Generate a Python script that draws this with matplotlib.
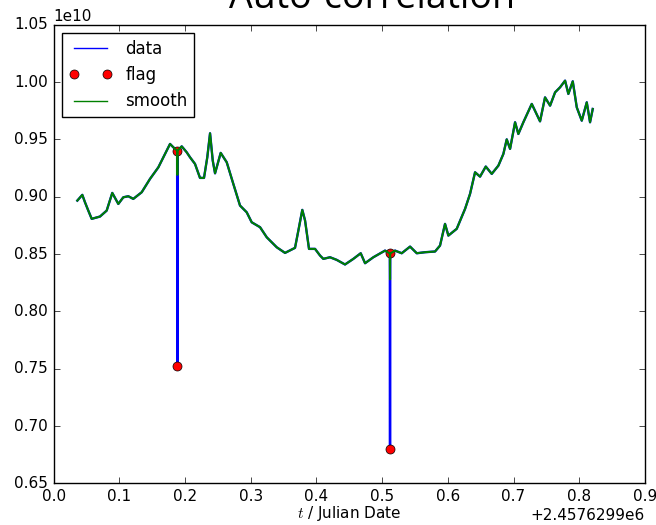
import numpy as np
import matplotlib
matplotlib.use("Agg")
import matplotlib.pyplot as plt
from matplotlib.ticker import ScalarFormatter

# time offset shown on the x axis and y scale
T0 = 2457629.9
SCALE = 1e10

# sample times (fraction of a day after T0)
t = [0.0361, 0.0437, 0.0478, 0.0528, 0.0580, 0.0706, 0.0808, 0.0893, 0.0985,
     0.1061, 0.1137, 0.1213, 0.1341, 0.1467, 0.1594, 0.1696, 0.1772, 0.1822,
     0.1880, 0.1883, 0.1886, 0.1950, 0.2026, 0.2076, 0.2152, 0.2228, 0.2289,
     0.2339, 0.2381, 0.2422, 0.2457, 0.2543, 0.2635, 0.2735, 0.2837, 0.2939,
     0.3015, 0.3142, 0.3244, 0.3396, 0.3522, 0.3674, 0.3725, 0.3785, 0.3827,
     0.3887, 0.3979, 0.4055, 0.4105, 0.4207, 0.4309, 0.4435, 0.4562, 0.4674,
     0.4740, 0.4866, 0.5044, 0.5117, 0.5120, 0.5123, 0.5196, 0.5298, 0.5425,
     0.5527, 0.5653, 0.5805, 0.5881, 0.5957, 0.6008, 0.6135, 0.6262, 0.6338,
     0.6414, 0.6490, 0.6577, 0.6668, 0.6769, 0.6845, 0.6896, 0.6947, 0.7023,
     0.7073, 0.7149, 0.7277, 0.7403, 0.7479, 0.7556, 0.7632, 0.7708, 0.7784,
     0.7834, 0.7901, 0.7962, 0.8038, 0.8114, 0.8164, 0.8205]

# raw auto-correlation (units of 1e10), with the two outliers
data = [0.8966, 0.9016, 0.8951, 0.8879, 0.8807, 0.8827, 0.8879, 0.9033, 0.8937,
        0.8995, 0.9004, 0.8981, 0.9039, 0.9155, 0.9256, 0.9373, 0.9460, 0.9431,
        0.9402, 0.7520, 0.9402, 0.9439, 0.9387, 0.9344, 0.9286, 0.9164, 0.9164,
        0.9344, 0.9553, 0.9315, 0.9204, 0.9382, 0.9300, 0.9112, 0.8923, 0.8864,
        0.8777, 0.8734, 0.8646, 0.8559, 0.8510, 0.8554, 0.8705, 0.8885, 0.8792,
        0.8545, 0.8545, 0.8487, 0.8458, 0.8472, 0.8449, 0.8409, 0.8458, 0.8507,
        0.8420, 0.8472, 0.8530, 0.8505, 0.6800, 0.8505, 0.8530, 0.8507, 0.8565,
        0.8507, 0.8516, 0.8522, 0.8574, 0.8763, 0.8661, 0.8720, 0.8894, 0.9025,
        0.9213, 0.9175, 0.9263, 0.9199, 0.9271, 0.9373, 0.9500, 0.9417, 0.9649,
        0.9547, 0.9649, 0.9809, 0.9657, 0.9866, 0.9794, 0.9910, 0.9954, 1.0012,
        0.9896, 1.0006, 0.9779, 0.9663, 0.9823, 0.9649, 0.9765]

# smoothed curve (only dips a little at the outliers)
smooth = [0.8966, 0.9016, 0.8951, 0.8879, 0.8807, 0.8827, 0.8879, 0.9033, 0.8937,
          0.8995, 0.9004, 0.8981, 0.9039, 0.9155, 0.9256, 0.9373, 0.9460, 0.9431,
          0.9402, 0.9190, 0.9402, 0.9439, 0.9387, 0.9344, 0.9286, 0.9164, 0.9164,
          0.9344, 0.9553, 0.9315, 0.9204, 0.9382, 0.9300, 0.9112, 0.8923, 0.8864,
          0.8777, 0.8734, 0.8646, 0.8559, 0.8510, 0.8554, 0.8705, 0.8885, 0.8792,
          0.8545, 0.8545, 0.8487, 0.8458, 0.8472, 0.8449, 0.8409, 0.8458, 0.8507,
          0.8420, 0.8472, 0.8530, 0.8505, 0.8280, 0.8505, 0.8530, 0.8507, 0.8565,
          0.8507, 0.8516, 0.8522, 0.8574, 0.8763, 0.8661, 0.8720, 0.8894, 0.9025,
          0.9213, 0.9175, 0.9263, 0.9199, 0.9271, 0.9373, 0.9500, 0.9417, 0.9649,
          0.9547, 0.9649, 0.9809, 0.9657, 0.9866, 0.9794, 0.9910, 0.9954, 1.0012,
          0.9896, 1.0006, 0.9779, 0.9663, 0.9823, 0.9649, 0.9765]

# flagged points
flag_t = [0.1883, 0.1883, 0.5120, 0.5120]
flag_v = [0.9402, 0.7520, 0.8505, 0.6800]

plt.style.use('classic')
plt.rcParams['font.size'] = 11
plt.rcParams['figure.facecolor'] = 'white'

fig = plt.figure(figsize=(6.56, 5.25), dpi=100)
ax = fig.add_axes([0.0817, 0.0792, 0.9015, 0.8738])

x = T0 + np.array(t)
ax.plot(x, np.array(data) * SCALE, 'b-', lw=1.7, label='data')
ax.plot(T0 + np.array(flag_t), np.array(flag_v) * SCALE, 'ro', ms=6.5,
        mec='k', mew=0.5, label='flag')
ax.plot(x, np.array(smooth) * SCALE, color=(0, 0.5, 0), lw=1.5, label='smooth')

ax.set_xlim(T0, T0 + 0.9)
ax.set_ylim(0.65e10, 1.05e10)
ax.set_xticks(T0 + np.arange(0, 0.91, 0.1))
ax.set_yticks(np.arange(0.65, 1.051, 0.05) * SCALE)
fmt = ScalarFormatter(useOffset=T0)
ax.xaxis.set_major_formatter(fmt)
ax.set_xlabel('$t$ / Julian Date', labelpad=0)

leg = ax.legend(loc='upper left', numpoints=2, fontsize=12,
                borderaxespad=0.5, handlelength=2.6)
for ln in leg.get_lines():
    if ln.get_label() != 'flag':
        ln.set_linewidth(1.0)

fig.text(0.567, 0.985, 'Auto-correlation', ha='center', va='baseline',
         fontsize=27, family='Open Sans')

fig.savefig('out.png', dpi=100, facecolor='white')
